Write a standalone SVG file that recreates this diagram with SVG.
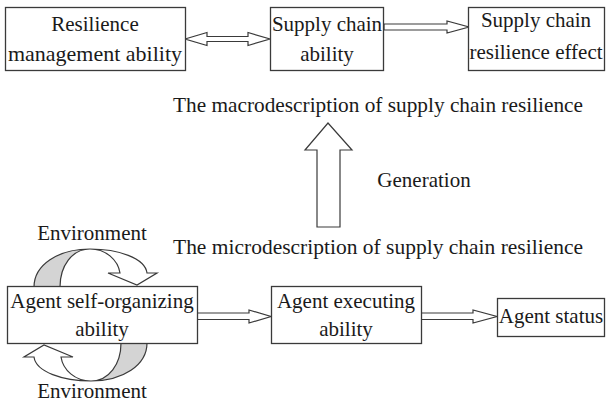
<svg xmlns="http://www.w3.org/2000/svg" width="608" height="402" viewBox="0 0 608 402">
<style>
.box{fill:#fff;stroke:#3a3a3a;stroke-width:1.3}
.t{font-family:"Liberation Serif","Times New Roman",serif;font-size:21px;fill:#1a1a1a;text-anchor:middle}
.arr{fill:#fff;stroke:#3a3a3a;stroke-width:1.2;stroke-linejoin:miter}
.gray{fill:#d4d4d4;stroke:#3a3a3a;stroke-width:1.2}
</style>
<defs>
<g id="loop">
<path class="gray" d="M34,287 C34,265 58,249 90,249 C72,249 60,266 60,287 Z"/>
<path class="arr" d="M90,249 C118,249 145,258 147,273 L157,273 L137,285 L108,273 L120,273 C118,260 106,249 90,249 Z"/>
</g>
</defs>
<rect width="608" height="402" fill="#fff"/>
<g id="connectors">
<path id="c1" class="arr" d="M185,39 L207,32.5 L207,36.5 L248,36.5 L248,32.5 L270,39 L248,45.5 L248,41.5 L207,41.5 L207,45.5 Z"/>
<path id="c2" class="arr" d="M384,24 L447,24 L447,21 L469,27 L447,33 L447,30 L384,30 Z"/>
<path id="c3" class="arr" d="M317,227 L317,150 L305,150 L328,123 L352,150 L340,150 L340,227 Z"/>
<path id="c4" class="arr" d="M197,313 L249,313 L249,310 L271,316.5 L249,323 L249,319.5 L197,319.5 Z"/>
<path id="c5" class="arr" d="M421,313 L473,313 L473,310 L497,316.5 L473,323 L473,319.5 L421,319.5 Z"/>
<g id="loop-top"><use href="#loop"/></g>
<g id="loop-bottom"><use href="#loop" transform="rotate(180 90.5 315)"/></g>
</g>
<g id="n1"><rect class="box" x="5.5" y="7.5" width="180" height="63"/><text class="t" x="95" y="31">Resilience</text><text class="t" x="95" y="61" textLength="174" lengthAdjust="spacingAndGlyphs">management ability</text></g>
<g id="n2"><rect class="box" x="270.5" y="7.5" width="113" height="63"/><text class="t" x="327" y="31">Supply chain</text><text class="t" x="327" y="61">ability</text></g>
<g id="n3"><rect class="box" x="468.5" y="7.5" width="136" height="63"/><text class="t" x="536" y="27">Supply chain</text><text class="t" x="536" y="59">resilience effect</text></g>
<g id="n4"><rect class="box" x="7.5" y="286.5" width="190" height="57"/><text class="t" x="102" y="308">Agent self-organizing</text><text class="t" x="102" y="336">ability</text></g>
<g id="n5"><rect class="box" x="271.5" y="286.5" width="150" height="57"/><text class="t" x="346" y="308">Agent executing</text><text class="t" x="346" y="336">ability</text></g>
<g id="n6"><rect class="box" x="497.5" y="298.5" width="107" height="38"/><text class="t" x="551" y="323">Agent status</text></g>
<g id="labels">
<text class="t" x="378" y="112" textLength="410" lengthAdjust="spacingAndGlyphs">The macrodescription of supply chain resilience</text>
<text class="t" x="424" y="187">Generation</text>
<text class="t" x="378" y="254" textLength="410" lengthAdjust="spacingAndGlyphs">The microdescription of supply chain resilience</text>
<text class="t" x="92" y="240">Environment</text>
<text class="t" x="92" y="398">Environment</text>
</g>
</svg>
